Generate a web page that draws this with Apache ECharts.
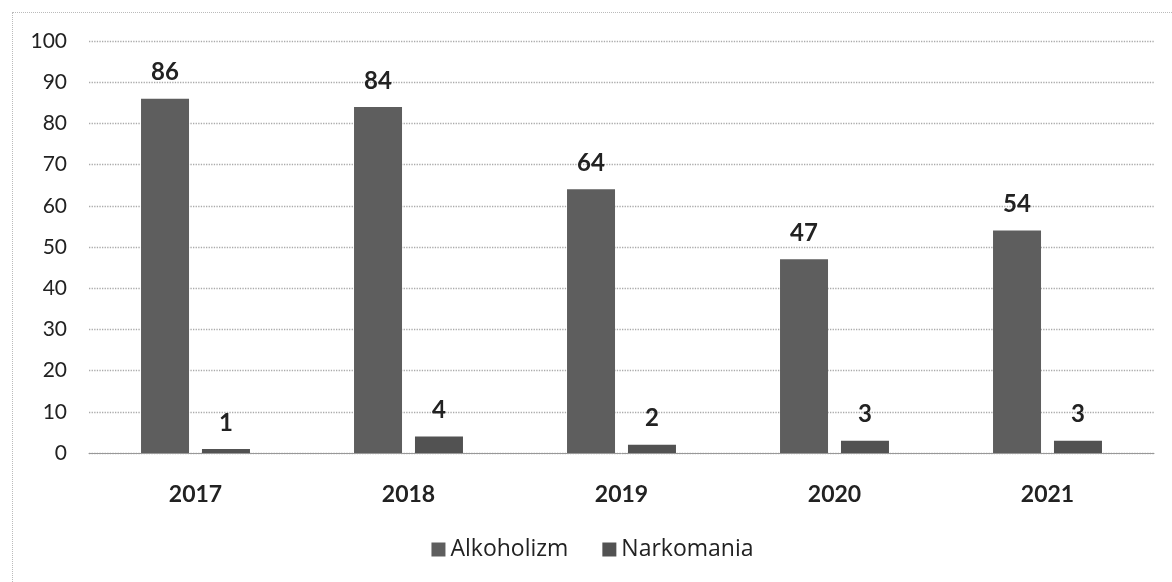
<!DOCTYPE html>
<html>
<head>
<meta charset="utf-8">
<script src="https://cdn.jsdelivr.net/npm/echarts@6/dist/echarts.min.js"></script>
<style>
  body { margin: 0; background: #fff; overflow: hidden; }
  #main { position: absolute; left: 12px; top: 12px; width: 1160px; height: 570px; border-left: 1px dotted #bbb; border-top: 1px dotted #bbb; box-sizing: border-box; }
</style>
</head>
<body>
<div id="main"></div>
<script>
// dane
const years = ['2017', '2018', '2019', '2020', '2021']
const alkoholizm = [86, 84, 64, 47, 54]
const narkomania = [1, 4, 2, 3, 3]
const yTicks = [0, 10, 20, 30, 40, 50, 60, 70, 80, 90, 100]

const myChart = echarts.init(document.querySelector('#main'))
const font = 'Lato, "Open Sans", sans-serif'

const option = {
  animation: false,
  textStyle: { fontFamily: font },
  grid: { left: 76, right: 18, top: 28, bottom: 129 },
  legend: {
    bottom: 16,
    left: 'center',
    itemWidth: 14,
    itemHeight: 14,
    itemGap: 34,
    icon: 'rect',
    textStyle: { fontSize: 23, color: '#222', fontFamily: '"Open Sans", sans-serif' },
    data: ['Alkoholizm', 'Narkomania']
  },
  xAxis: {
    type: 'category',
    data: years,
    axisLine: { lineStyle: { color: '#999', width: 1 } },
    axisTick: { show: false },
    axisLabel: { color: '#222', fontSize: 23, fontWeight: 'bold', margin: 30 }
  },
  yAxis: {
    type: 'value',
    min: yTicks[0],
    max: yTicks[yTicks.length - 1],
    interval: 10,
    axisLine: { show: false },
    axisTick: { show: false },
    axisLabel: { color: '#222', fontSize: 21, margin: 22 },
    splitLine: { lineStyle: { color: '#aaa', type: 'dotted', width: 1.3 } }
  },
  series: [
    {
      name: 'Alkoholizm',
      type: 'bar',
      data: alkoholizm,
      barWidth: 48,
      barGap: '27%',
      itemStyle: { color: '#5e5e5e' },
      label: { show: true, position: 'top', distance: 14, color: '#222', fontSize: 24, fontWeight: 'bold' }
    },
    {
      name: 'Narkomania',
      type: 'bar',
      data: narkomania,
      barWidth: 48,
      itemStyle: { color: '#525252' },
      label: { show: true, position: 'top', distance: 14, color: '#222', fontSize: 24, fontWeight: 'bold' }
    }
  ]
}

myChart.setOption(option)
</script>
</body>
</html>
